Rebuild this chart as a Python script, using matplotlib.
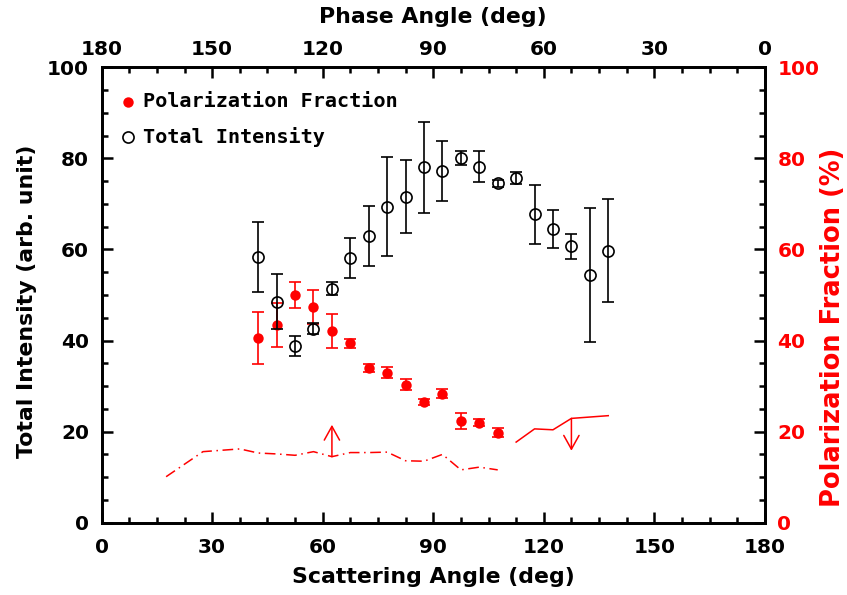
import matplotlib
matplotlib.use("Agg")
import matplotlib.pyplot as plt
from matplotlib.ticker import MultipleLocator

# ---- data ----
angle_int = [42.5, 47.5, 52.5, 57.5, 62.5, 67.5, 72.5, 77.5, 82.5, 87.5,
             92.5, 97.5, 102.5, 107.5, 112.5, 117.5, 122.5, 127.5, 132.5, 137.5]
intensity = [58.3, 48.5, 38.7, 42.6, 51.4, 58.1, 62.9, 69.4, 71.6, 78.0,
             77.2, 80.0, 78.2, 74.5, 75.7, 67.7, 64.5, 60.7, 54.4, 59.7]
intensity_err = [7.7, 6.0, 2.2, 1.2, 1.4, 4.3, 6.6, 10.9, 8.0, 10.0,
                 6.5, 1.5, 3.5, 0.8, 1.4, 6.4, 4.2, 2.7, 14.8, 11.3]

angle_pol = [42.5, 47.5, 52.5, 57.5, 62.5, 67.5, 72.5, 77.5, 82.5, 87.5,
             92.5, 97.5, 102.5, 107.5]
polfrac = [40.6, 43.4, 50.0, 47.3, 42.1, 39.4, 34.0, 32.9, 30.3, 26.5,
           28.3, 22.3, 22.0, 19.8]
polfrac_err = [5.7, 4.9, 2.9, 3.7, 3.7, 1.0, 0.9, 1.2, 1.2, 0.7,
               1.0, 1.8, 0.8, 1.0]

angle_dashdot = [17.5, 27.5, 37.5, 42.5, 47.5, 52.5, 57.5, 62.5, 67.5, 72.5,
                 77.5, 82.5, 87.5, 92.5, 97.5, 102.5, 107.5]
pol_dashdot = [10.1, 15.6, 16.2, 15.3, 15.1, 14.8, 15.6, 14.5, 15.4, 15.4,
               15.5, 13.6, 13.5, 15.0, 11.6, 12.2, 11.6]

angle_solid = [112.5, 117.5, 122.5, 127.5, 137.5]
pol_solid = [17.7, 20.6, 20.4, 22.9, 23.5]

arrow_up = (62.5, 14.5, 21.5)    # x, from, to
arrow_down = (127.5, 22.9, 15.8)

xticks = [0, 30, 60, 90, 120, 150, 180]
yticks = [0, 20, 40, 60, 80, 100]

RED = "#ff0000"
FS = 14.5
TFS = 15.8
LFONT = "DejaVu Sans Mono"

fig = plt.figure(figsize=(8.47, 5.95), dpi=100)
ax = fig.add_axes([0.120, 0.1215, 0.783, 0.7655])

ax.plot(angle_dashdot, pol_dashdot, color=RED, lw=1.1, ls=(0, (7, 3, 1, 3)))
ax.plot(angle_solid, pol_solid, color=RED, lw=1.1, ls="-")
for (x, y0, y1) in [arrow_up, arrow_down]:
    ax.annotate("", xy=(x, y1), xytext=(x, y0),
                arrowprops=dict(arrowstyle="->,head_length=0.45,head_width=0.25",
                                color=RED, lw=1.1,
                                shrinkA=0, shrinkB=0, mutation_scale=22))

ax.errorbar(angle_pol, polfrac, yerr=polfrac_err, fmt="none", ecolor=RED,
            elinewidth=1.2, capsize=4, capthick=1.2, zorder=3)
ax.plot(angle_pol, polfrac, "o", color=RED, ms=7.5, mew=0, zorder=3)
ax.errorbar(angle_int, intensity, yerr=intensity_err, fmt="o", color="black",
            mfc="none", ms=8, mew=1.2, elinewidth=1.2, capsize=4,
            capthick=1.2, zorder=4)

ax.set_xlim(0, 180)
ax.set_ylim(0, 100)
ax.set_xticks(xticks)
ax.set_yticks(yticks)
ax.xaxis.set_minor_locator(MultipleLocator(7.5))
ax.yaxis.set_minor_locator(MultipleLocator(5))
ax.tick_params(which="both", direction="in", width=1.8, top=False, right=False)
ax.tick_params(which="major", length=8, labelsize=FS)
ax.tick_params(axis="x", which="major", pad=11)
ax.tick_params(axis="y", which="major", pad=9)
ax.tick_params(which="minor", length=4)
for lab in ax.get_xticklabels() + ax.get_yticklabels():
    lab.set_fontweight("bold")
for sp in ax.spines.values():
    sp.set_linewidth(1.8)
ax.set_xlabel("Scattering Angle (deg)", fontsize=TFS, fontweight="bold", labelpad=7)
ax.set_ylabel("Total Intensity (arb. unit)", fontsize=TFS, fontweight="bold",
              va="center")
ax.yaxis.set_label_coords(-0.112, 0.485)

# top axis: phase angle
axt = ax.twiny()
axt.set_xlim(0, 180)
axt.set_xticks(xticks)
axt.set_xticklabels([str(180 - t) for t in xticks])
axt.xaxis.set_minor_locator(MultipleLocator(7.5))
axt.tick_params(which="both", direction="in", width=1.8)
axt.tick_params(which="major", length=8, labelsize=FS, pad=6)
axt.tick_params(which="minor", length=4)
for lab in axt.get_xticklabels():
    lab.set_fontweight("bold")
axt.set_xlabel("Phase Angle (deg)", fontsize=TFS, fontweight="bold", labelpad=12)

# right axis: polarization fraction
axr = ax.twinx()
axr.set_ylim(0, 100)
axr.set_yticks(yticks)
axr.yaxis.set_minor_locator(MultipleLocator(5))
axr.tick_params(which="both", direction="in", width=1.8, labelcolor=RED)
axr.tick_params(which="major", length=8, labelsize=FS, pad=9)
axr.tick_params(which="minor", length=4)
for lab in axr.get_yticklabels():
    lab.set_fontweight("bold")
axr.set_ylabel("Polarization Fraction (%)", fontsize=18.5, fontweight="bold",
               color=RED, va="center")
axr.yaxis.set_label_coords(1.103, 0.43)
for a in (axt, axr):
    for sp in a.spines.values():
        sp.set_linewidth(1.8)

# legend (manual, as in IDL)
ax.plot([7.2], [92.4], "o", color=RED, ms=7.5, mew=0, clip_on=False)
ax.text(11.2, 92.4, "Polarization Fraction", fontsize=FS, fontweight="bold",
        family=LFONT, va="center", ha="left")
ax.plot([7.2], [84.7], "o", color="black", mfc="none", ms=8, mew=1.2, clip_on=False)
ax.text(11.2, 84.7, "Total Intensity", fontsize=FS, fontweight="bold",
        family=LFONT, va="center", ha="left")

fig.savefig("out.png", dpi=100)
